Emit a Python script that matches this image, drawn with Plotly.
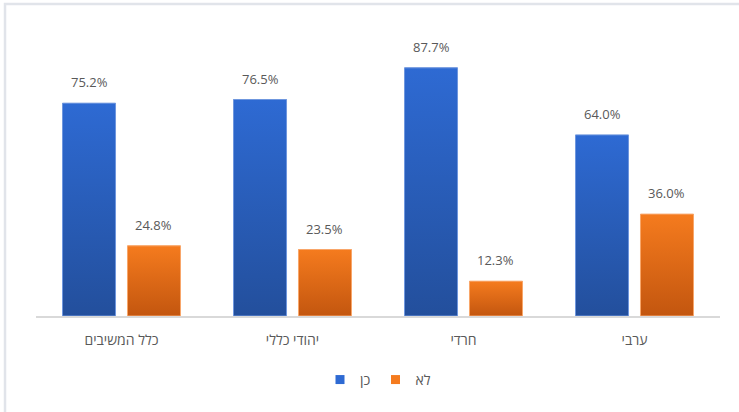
import plotly.graph_objects as go

# Survey results by group (percent)
categories = ["כלל המשיבים", "יהודי כללי", "חרדי", "ערבי"]
yes_values = [75.2, 76.5, 87.7, 64.0]
no_values = [24.8, 23.5, 12.3, 36.0]
series_names = ["כן", "לא"]

BAR_W = 0.31
OFFSET = 0.19
TEXT = "#595959"
FONT = "Segoe UI, Open Sans, DejaVu Sans, sans-serif"

series = [
    (series_names[0], yes_values, -OFFSET, "#2E6AD3", "#234F9C", "#6F97DE"),
    (series_names[1], no_values, OFFSET, "#F57B1E", "#C3560F", "#F8A66A"),
]

fig = go.Figure()
xs = list(range(len(categories)))

# Plain bars underneath the gradient overlay
for name, vals, off, top, bottom, edge in series:
    fig.add_trace(go.Bar(
        x=[i + off for i in xs], y=vals, width=BAR_W, name=name,
        marker=dict(color=top, line=dict(width=0)),
        hoverinfo="skip", showlegend=False,
    ))

# Gradient overlay for each bar, dark at the base and bright at the top
for name, vals, off, top, bottom, edge in series:
    for i, v in zip(xs, vals):
        x0 = i + off - BAR_W / 2
        x1 = i + off + BAR_W / 2
        fig.add_trace(go.Scatter(
            x=[x0, x1, x1, x0, x0], y=[0, 0, v, v, 0],
            mode="lines", fill="toself",
            line=dict(color=edge, width=1),
            fillgradient=dict(type="vertical", start=0, stop=v,
                              colorscale=[[0, bottom], [1, top]]),
            showlegend=False, hoverinfo="skip",
        ))

# Compact square legend entries
for name, vals, off, top, bottom, edge in series:
    fig.add_trace(go.Scatter(
        x=[None], y=[None], mode="markers", name=name,
        marker=dict(symbol="square", size=9, color=top),
    ))

# Value labels above the bars
for name, vals, off, *_ in series:
    for i, v in zip(xs, vals):
        fig.add_annotation(
            x=i + off, y=v, text=f"{v:.1f}%", showarrow=False,
            yanchor="middle", yshift=21,
            font=dict(size=13, color=TEXT, family=FONT),
        )

# Light frame around the chart
fig.add_shape(
    type="rect", xref="paper", yref="paper",
    x0=-0.0453, x1=1.2, y0=-0.6, y1=1.1025,
    line=dict(color="#E1E4EA", width=2.5), fillcolor="rgba(0,0,0,0)",
    layer="below",
)

fig.update_layout(
    width=739, height=412,
    margin=dict(l=36, r=19, t=33, b=96),
    paper_bgcolor="white", plot_bgcolor="white",
    barmode="overlay",
    font=dict(family=FONT, color=TEXT, size=13),
    showlegend=True,
    legend=dict(orientation="h", x=0.5, xanchor="center", y=-0.226,
                yanchor="middle", font=dict(size=14, color=TEXT),
                itemwidth=30, tracegroupgap=0),
    xaxis=dict(
        range=[-0.5, 3.5], tickmode="array", tickvals=xs, ticktext=categories,
        showgrid=False, zeroline=False, showline=True,
        linecolor="#D9D9D9", linewidth=2,
        ticks="outside", ticklen=10, tickcolor="rgba(0,0,0,0)",
        tickfont=dict(size=14, color=TEXT),
    ),
    yaxis=dict(range=[0, 100], visible=False, showgrid=False, zeroline=False),
)

fig.write_html("out.html")
